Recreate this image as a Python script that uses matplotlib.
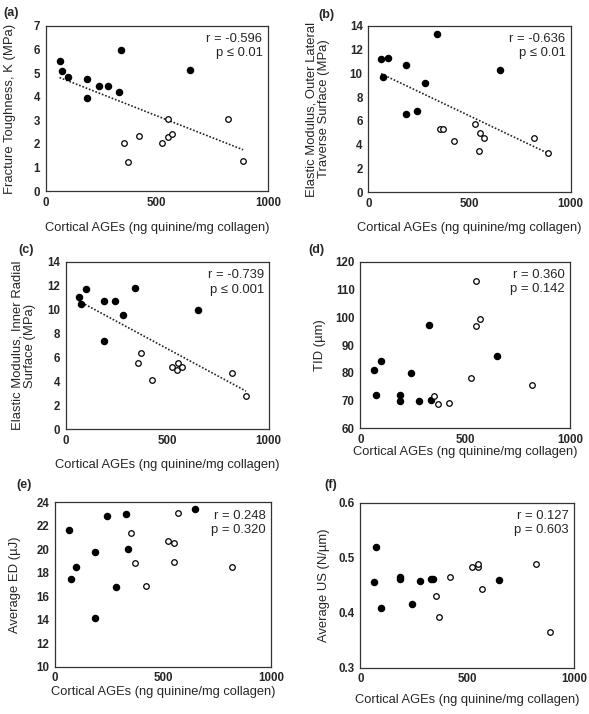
import numpy as np
import matplotlib
matplotlib.use("Agg")
import matplotlib.pyplot as plt

plt.rcParams['font.family'] = ['Liberation Sans', 'DejaVu Sans']

# cortical AGEs (ng quinine/mg collagen), filled group and open group
ages_filled = [63, 73, 99, 187, 187, 241, 281, 329, 338, 650]
ages_open = [353, 370, 422, 525, 549, 552, 570, 820, 888]

nan = np.nan
# (a) fracture toughness
kc_filled = [5.52, 5.07, 4.82, 4.73, 3.94, 4.45, 4.45, 4.21, 5.97, 5.11]
kc_open = [2.03, 1.25, 2.34, 2.03, 2.30, 3.06, 2.41, 3.06, 1.28]
# (b) elastic modulus, outer lateral
eol_filled = [11.2, 9.66, 11.29, 10.7, 6.55, 6.83, 9.16, nan, 13.3, 10.25]
eol_open = [5.32, 5.32, 4.29, 5.71, 3.50, 4.96, 4.54, 4.54, 3.33]
# (c) elastic modulus, inner radial
eir_filled = [11.08, 10.47, 11.72, 10.72, 7.35, 10.72, 9.57, nan, 11.80, 9.99]
eir_open = [5.52, 6.38, 4.09, 5.24, 4.99, 5.57, 5.24, 4.71, 2.76]
# (d) TID
tid_filled = [80.9, 71.9, 84.4, 69.8, 71.9, 79.8, 70.0, 97.1, 70.2, 86.2]
tid_open = [71.6, 68.6, 69.0, 78.2, 113.1, 97.0, 99.4, 75.7, nan]
# (e) average ED
ed_filled = [21.68, 17.44, 18.52, 14.18, 19.80, 22.81, 16.76, 22.98, 20.03, 23.44]
ed_open = [21.39, 18.81, 16.85, 20.68, 20.54, 18.89, 23.13, 18.52, nan]
# (f) average US
us_filled = [0.455, 0.520, 0.409, 0.461, 0.465, 0.415, 0.458, 0.461, 0.461, 0.459]
us_open = [0.430, 0.392, 0.465, 0.482, 0.482, 0.489, 0.442, 0.489, 0.365]

xlabel = "Cortical AGEs (ng quinine/mg collagen)"

panels = [
    # label, rect, filled, open, ylabel, yticks, ytick labels, stats, trend, ylabel x, xlabel y, panel label xy
    ("(a)", [0.0773, 0.7321, 0.3778, 0.2319], kc_filled, kc_open,
     "Fracture Toughness, K (MPa)", np.arange(0, 8, 1), None,
     "r = -0.596\np \u2264 0.01", True, 10, 228, (3, 13)),
    ("(b)", [0.6253, 0.7307, 0.3436, 0.2333], eol_filled, eol_open,
     "Elastic Modulus, Outer Lateral\nTraverse Surface (MPa)", np.arange(0, 15, 2), None,
     "r = -0.636\np \u2264 0.01", True, 318, 228, (318, 15)),
    ("(c)", [0.1121, 0.3987, 0.3441, 0.2347], eir_filled, eir_open,
     "Elastic Modulus, Inner Radial\nSurface (MPa)", np.arange(0, 15, 2), None,
     "r = -0.739\np \u2264 0.001", True, 24, 465, (18, 250)),
    ("(d)", [0.6117, 0.4001, 0.3565, 0.2333], tid_filled, tid_open,
     "TID (\u00b5m)", np.arange(60, 121, 10), None,
     "r = 0.360\np = 0.142", False, 320, 452, (308, 250)),
    ("(e)", [0.0934, 0.0662, 0.3667, 0.2303], ed_filled, ed_open,
     "Average ED (\u00b5J)", np.arange(10, 25, 2), None,
     "r = 0.248\np = 0.320", False, 15, 692, (16, 485)),
    ("(f)", [0.6117, 0.0651, 0.3628, 0.2311], us_filled, us_open,
     "Average US (N/\u00b5m)", np.array([0.3, 0.4, 0.5, 0.6]), ["0.3", "0.4", "0.5", "0.6"],
     "r = 0.127\np = 0.603", False, 324, 700, (324, 485)),
]

W, H = 589, 714
txt = '#262626'
fig = plt.figure(figsize=(W / 100, H / 100), dpi=100)

for lab, rect, yf, yo, ylab, yt, ytl, stats, trend, ylx, xly, lxy in panels:
    ax = fig.add_axes(rect)
    ax.plot(ages_filled, yf, 'o', color='black', markersize=4.4, zorder=3)
    ax.plot(ages_open, yo, 'o', markerfacecolor='white', markeredgecolor='black',
            markeredgewidth=0.9, markersize=4.0, zorder=3)
    if trend:
        xs = np.array(ages_filled + ages_open, dtype=float)
        ys = np.array(yf + yo, dtype=float)
        ok = ~np.isnan(ys)
        m, b = np.polyfit(xs[ok], ys[ok], 1)
        xx = np.array([xs[ok].min(), xs[ok].max()])
        ax.plot(xx, m * xx + b, linestyle=(0, (1, 1.1)), color='#222222', linewidth=1.2, zorder=2)
    ax.set_xlim(0, 1000)
    ax.set_ylim(yt[0], yt[-1])
    ax.set_xticks([0, 500, 1000])
    ax.set_yticks(yt)
    if ytl is not None:
        ax.set_yticklabels(ytl)
    ax.tick_params(length=0, pad=4, labelsize=8.3, labelcolor=txt)
    for t in ax.get_xticklabels() + ax.get_yticklabels():
        t.set_fontweight('bold')
    for s in ax.spines.values():
        s.set_linewidth(0.9)
        s.set_color('#333333')
    ax.text(0.975, 0.955, stats, transform=ax.transAxes, ha='right', va='top',
            fontsize=9.4, linespacing=1.25, color=txt)

    # axis labels placed by pixel position
    x0, y0, w, h = rect
    ax.set_xlabel(xlabel, fontsize=9.3, va='center', color=txt)
    ax.xaxis.set_label_coords(0.5, ((H - xly) / H - y0) / h)
    ax.set_ylabel(ylab, fontsize=9.4, va='center', ha='center', linespacing=1.1, color=txt)
    ax.yaxis.set_label_coords((ylx / W - x0) / w, 0.5)

    fig.text(lxy[0] / W, 1 - lxy[1] / H, lab, fontsize=9, fontweight='bold',
             ha='left', va='center', color=txt)

fig.savefig("out.png", dpi=100)
